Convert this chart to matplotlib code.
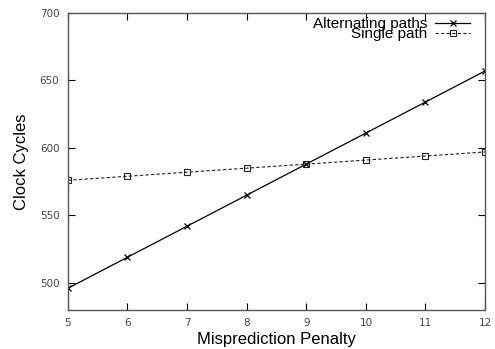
import matplotlib
matplotlib.use("Agg")
import matplotlib.pyplot as plt

penalty = [5, 6, 7, 8, 9, 10, 11, 12]
alternating = [496, 519, 542, 565, 588, 611, 634, 657]
single = [576, 579, 582, 585, 588, 591, 594, 597]

x_ticks = [5, 6, 7, 8, 9, 10, 11, 12]
y_ticks = [500, 550, 600, 650, 700]

plt.rcParams["font.family"] = ["Liberation Sans", "DejaVu Sans"]

fig = plt.figure(figsize=(4.95, 3.49), dpi=100)
ax = fig.add_axes([0.137, 0.112, 0.843, 0.851])

ax.plot(penalty, alternating, color="black", lw=0.9, marker="x", ms=5,
        mew=0.9, label="Alternating paths")
ax.plot(penalty, single, color="#222222", lw=0.8, ls=(0, (3, 2)), marker="s",
        ms=4.5, mfc="none", mew=0.8, label="Single path")

ax.set_xlim(5, 12)
ax.set_ylim(480, 700)
ax.set_xticks(x_ticks)
ax.set_yticks(y_ticks)
ax.tick_params(direction="in", top=True, right=True, length=5, width=0.8,
               labelsize=7.5, labelcolor="#444444", pad=6)
for lab in ax.get_xticklabels() + ax.get_yticklabels():
    lab.set_family("DejaVu Sans")
for sp in ax.spines.values():
    sp.set_color("#555555")
    sp.set_linewidth(1.0)

ax.set_xlabel("Misprediction Penalty", fontsize=12, labelpad=3)
ax.set_ylabel("Clock Cycles", fontsize=12, labelpad=8)

ax.legend(loc="upper right", bbox_to_anchor=(0.965, 0.986), frameon=False,
          markerfirst=False, fontsize=11, handlelength=2.3, handletextpad=0.5,
          labelspacing=-0.25, borderaxespad=0.0, borderpad=0.0)

fig.savefig("out.png", dpi=100, facecolor="white")
